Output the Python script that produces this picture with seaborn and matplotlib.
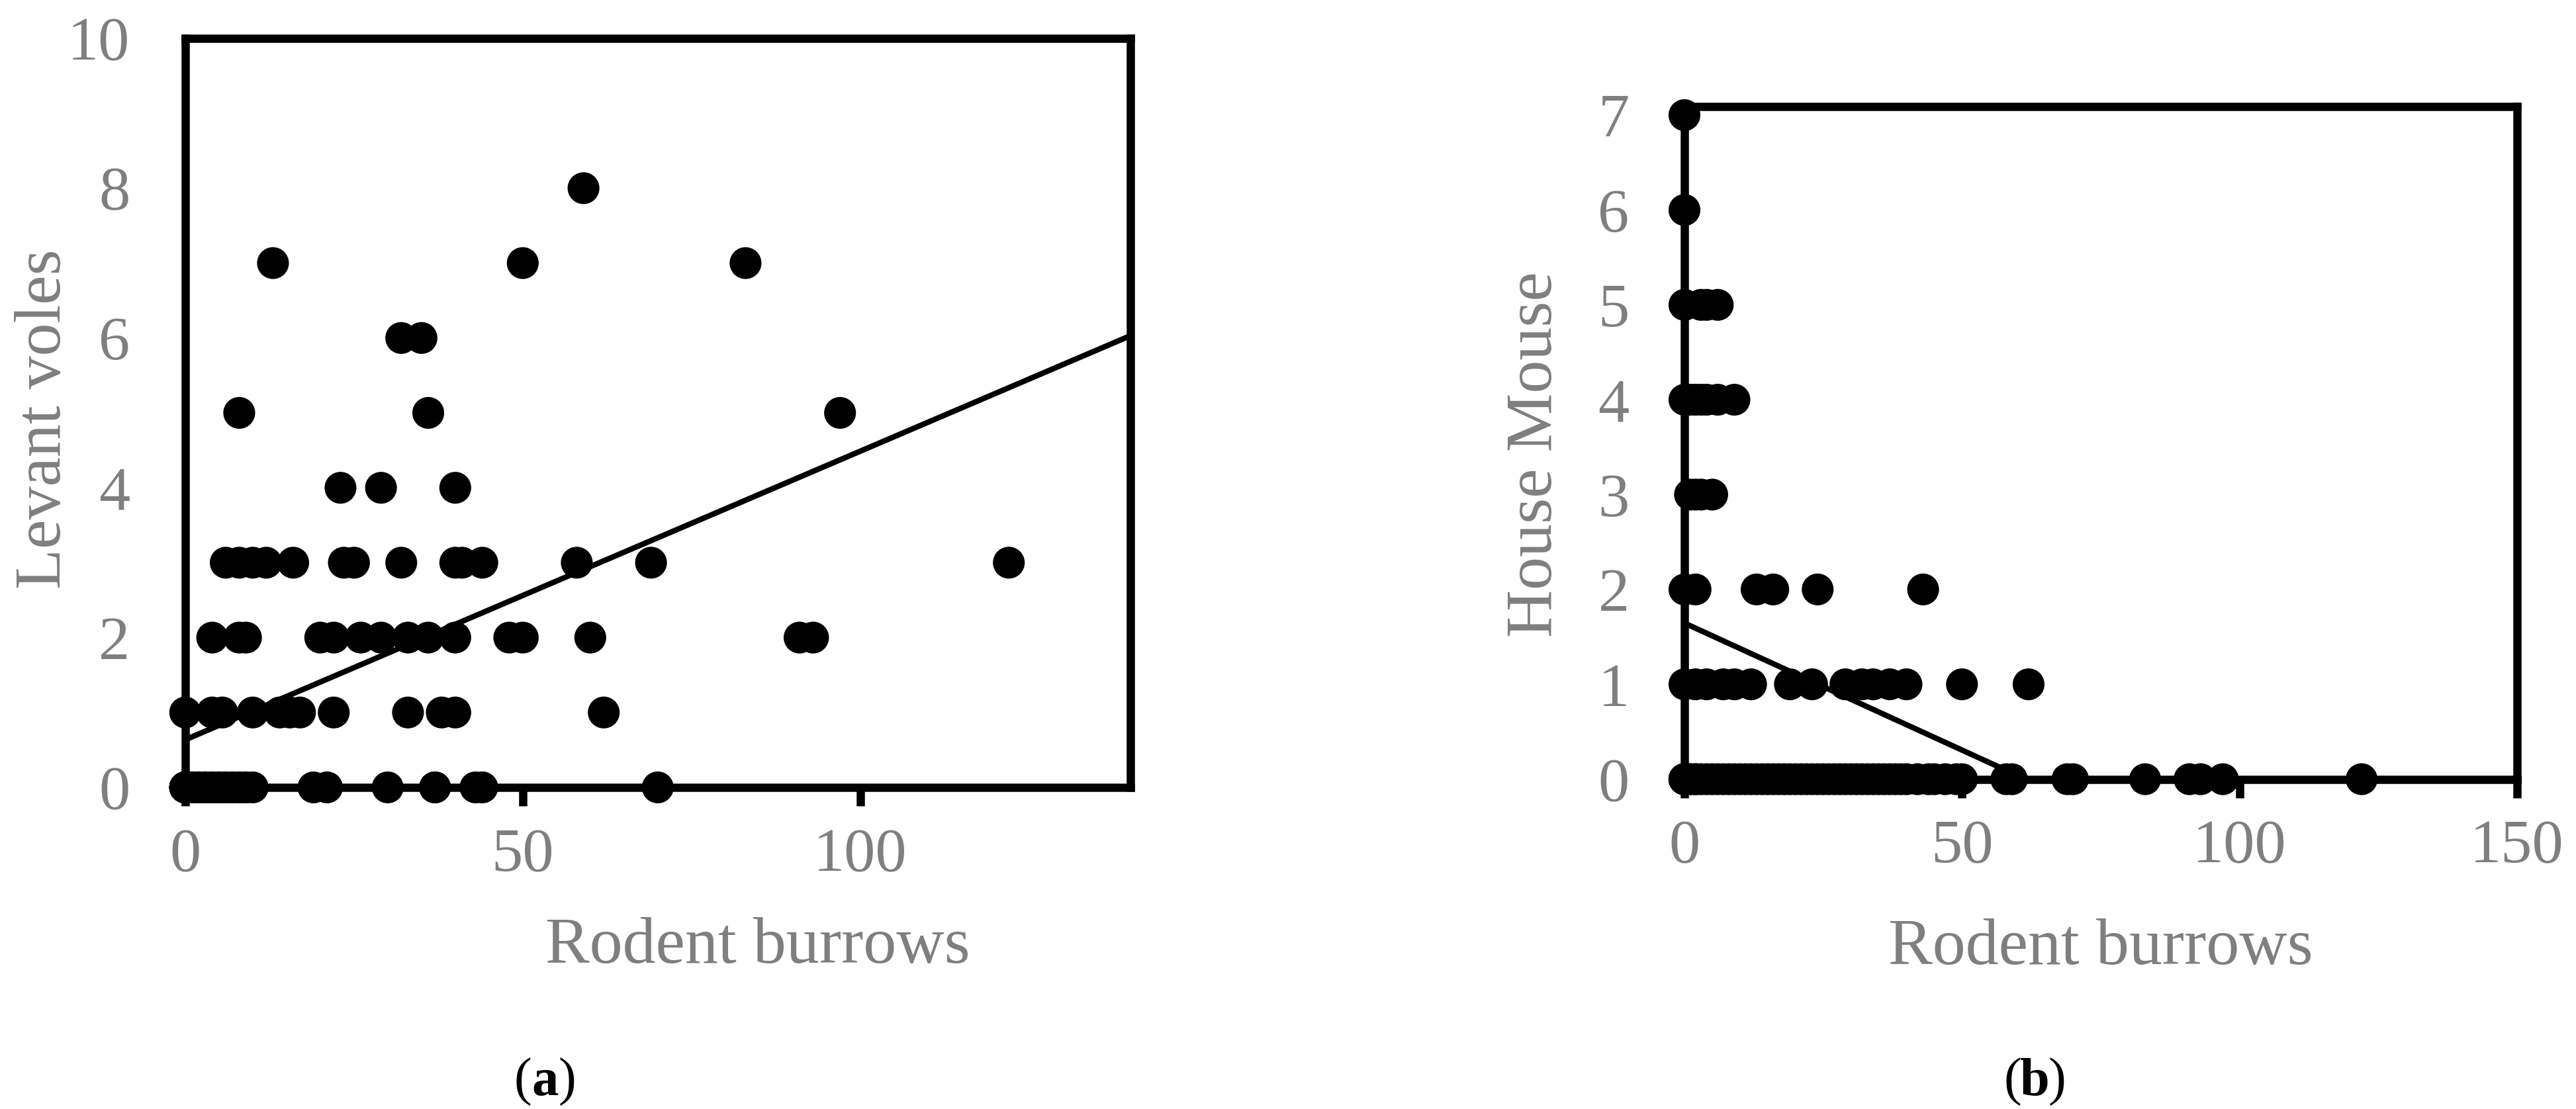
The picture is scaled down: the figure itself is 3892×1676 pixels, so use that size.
import numpy as np
import pandas as pd
import matplotlib
matplotlib.use('Agg')
import matplotlib.pyplot as plt
import seaborn as sns

# Datos (a): madrigueras vs topillos
# (fila por fila, de y=0 hacia arriba)
burrows_a = [0, 0, 0, 0, 0, 0, 0, 0, 0, 0, 1, 1, 1, 1, 2, 2, 2, 2, 3, 3, 3, 3,
             4, 4, 4, 4, 5, 5, 5, 5, 6, 6, 6, 7, 7, 8, 8, 9, 9, 10,
             19, 21, 30, 37, 37, 43, 44, 70,
             0, 4, 5.5, 10, 14, 15.5, 17, 22, 33, 38, 40, 62,
             4, 8, 9, 20, 22, 26, 29, 33, 36, 40, 48, 50, 60, 91, 93,
             6, 8, 10, 12, 16, 23.5, 25, 32, 40, 41, 44, 58, 69, 122,
             23, 29, 40,
             8, 36, 97,
             32, 35,
             13, 50, 83,
             59]
voles_a = [0] * 48 + [1] * 12 + [2] * 15 + [3] * 14 + [4] * 3 + [5] * 3 + [6] * 2 + [7] * 3 + [8]

# Datos (b): madrigueras vs raton domestico
burrows_b = [0, 0, 0, 0, 1, 1, 2, 2, 3, 4, 5, 6, 7, 8, 9, 10, 11, 12, 13, 14,
             15, 16, 17, 18, 19, 20, 21, 22, 23, 24, 25, 26, 27, 28, 29, 30,
             31, 32, 33, 34, 35, 36, 37, 38, 39, 40, 42, 44, 45, 47, 49, 50,
             58, 59, 69, 70, 83, 91, 93, 97, 122,
             0, 2, 4, 7, 9, 12, 19, 23, 29, 32, 34, 37, 40, 50, 62,
             0, 2, 13, 16, 24, 43,
             1, 2, 3, 5,
             0, 1, 2, 3, 4, 6, 9,
             0, 3, 4, 6,
             0,
             0]
mouse_b = [0] * 61 + [1] * 15 + [2] * 6 + [3] * 4 + [4] * 7 + [5] * 4 + [6] + [7]

panel_a = pd.DataFrame({'burrows': burrows_a, 'count': voles_a})
panel_b = pd.DataFrame({'burrows': burrows_b, 'count': mouse_b})

sns.set_style('white')
plt.rcParams['font.family'] = ['Liberation Serif', 'DejaVu Serif']
gris = '#7f7f7f'

fig = plt.figure(figsize=(38.92, 16.76), dpi=100)
ax_a = fig.add_axes([0.0719, 0.2900, 0.3669, 0.6754])
ax_b = fig.add_axes([0.6539, 0.2974, 0.3232, 0.6065])


def dibuja_panel(ax, datos, xmax, ymax, xticks, yticks):
    ax.set_xlim(0, xmax)
    ax.set_ylim(0, ymax)
    sns.scatterplot(data=datos, x='burrows', y='count', ax=ax, color='black',
                    s=1200, edgecolor='none', clip_on=False, zorder=3)
    # linea de tendencia lineal (como en Excel)
    sns.regplot(data=datos, x='burrows', y='count', ax=ax, scatter=False,
                ci=None, truncate=False, color='black',
                line_kws={'linewidth': 6, 'zorder': 4})
    ax.set_xlim(0, xmax)
    ax.set_ylim(0, ymax)
    ax.set_xticks(xticks)
    ax.set_yticks(yticks)
    for s in ax.spines.values():
        s.set_visible(True)
        s.set_linewidth(9)
        s.set_color('black')
        s.set_zorder(2)
    ax.tick_params(axis='x', direction='out', length=20, width=9, color='black',
                   pad=24, labelsize=68, labelcolor=gris, bottom=True)
    ax.tick_params(axis='y', length=0, pad=60, labelsize=68, labelcolor=gris)


dibuja_panel(ax_a, panel_a, 140, 10, [0, 50, 100], [0, 2, 4, 6, 8, 10])
dibuja_panel(ax_b, panel_b, 150, 7.09, [0, 50, 100, 150], [0, 1, 2, 3, 4, 5, 6, 7])

ax_a.set_xlabel('Rodent burrows', fontsize=72, color=gris, va='center')
ax_a.set_ylabel('Levant voles', fontsize=72, color=gris, va='center')
ax_a.xaxis.set_label_coords(0.606, -0.213)
ax_a.yaxis.set_label_coords(-0.149, 0.492)

ax_b.set_xlabel('Rodent burrows', fontsize=72, color=gris, va='center')
ax_b.set_ylabel('House Mouse', fontsize=72, color=gris, va='center')
ax_b.xaxis.set_label_coords(0.5, -0.251)
ax_b.yaxis.set_label_coords(-0.179, 0.4825)


def rotulo(xc, letra):
    pos = (xc, 0.024)
    fig.text(xc, pos[1], letra, ha='center', va='center', fontsize=58,
             fontweight='bold', color='black')
    plt.annotate('(', xy=pos, xycoords='figure fraction', xytext=(-14.5, 0),
                 textcoords='offset points', ha='right', va='center',
                 fontsize=58, color='black')
    plt.annotate(')', xy=pos, xycoords='figure fraction', xytext=(14.5, 0),
                 textcoords='offset points', ha='left', va='center',
                 fontsize=58, color='black')


rotulo(0.2115, 'a')
rotulo(0.790, 'b')

fig.savefig('out.png', dpi=100)
